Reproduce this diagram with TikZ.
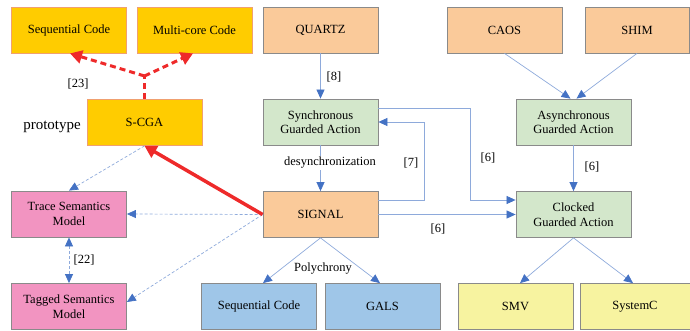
\documentclass[tikz,border=0pt]{standalone}
\usepackage{fontspec}
\setmainfont{Liberation Serif}
\usetikzlibrary{arrows.meta}
\definecolor{orfill}{HTML}{FACA9A}
\definecolor{gold}{HTML}{FFCC00}
\definecolor{goldline}{HTML}{F0A070}
\definecolor{grfill}{HTML}{D3E7CB}
\definecolor{pkfill}{HTML}{F294C1}
\definecolor{bufill}{HTML}{9FC6E8}
\definecolor{yefill}{HTML}{F7F3A0}
\definecolor{boxline}{HTML}{8A8A8A}
\definecolor{bline}{HTML}{8EAADB}
\definecolor{btip}{HTML}{4472C4}
\definecolor{myred}{HTML}{EE2A2A}
\tikzset{
  box/.style={draw=boxline, line width=0.8pt, minimum width=115pt, minimum height=46pt, inner sep=0pt, align=center, font=\fontsize{12.5}{14.5}\selectfont},
  orbox/.style={box, fill=orfill},
  gdbox/.style={box, fill=gold, draw=goldline},
  grbox/.style={box, fill=grfill},
  pkbox/.style={box, fill=pkfill},
  bubox/.style={box, fill=bufill},
  yebox/.style={box, fill=yefill},
  lbl/.style={font=\fontsize{12.5}{14.5}\selectfont, inner sep=1pt},
  bl/.style={draw=bline, line width=0.7pt, -{Triangle[length=9pt,width=8pt,color=btip]}},
  bld/.style={bl, dashed, dash pattern=on 3pt off 2pt},
  rdash/.style={draw=myred, line width=3pt, dash pattern=on 6pt off 4pt},
  rtip/.style={-{Triangle[length=12pt,width=13pt,color=myred]}},
}
\begin{document}
\begin{tikzpicture}[x=1pt,y=-1pt]
\useasboundingbox (0,0) rectangle (690,331);
% boxes
\node[gdbox] (seq1) at (69,30) {Sequential Code};
\node[gdbox] (multi) at (194.5,30) {Multi-core Code};
\node[orbox] (quartz) at (320.5,30) {QUARTZ};
\node[orbox] (caos) at (504.5,30) {CAOS};
\node[orbox, minimum width=104pt] (shim) at (637,30) {SHIM};
\node[gdbox] (scga) at (144.5,122.5) {S-CGA};
\node[grbox] (sga) at (320.5,122) {Synchronous\\Guarded Action};
\node[grbox] (aga) at (573.5,122) {Asynchronous\\Guarded Action};
\node[pkbox] (trace) at (69,214) {Trace Semantics\\Model};
\node[orbox] (signal) at (320.5,214.5) {SIGNAL};
\node[grbox] (cga) at (573.5,214.5) {Clocked\\Guarded Action};
\node[pkbox] (tagged) at (69,306.5) {Tagged Semantics\\Model};
\node[bubox] (bseq) at (259,306.5) {Sequential Code};
\node[bubox] (gals) at (382.5,306.5) {GALS};
\node[yebox] (smv) at (515.5,306.5) {SMV};
\node[yebox, minimum width=110pt] (sysc) at (635,306.5) {SystemC};
% blue connectors
\draw[bl] (quartz) -- (sga);
\draw[bl] (sga) -- (signal);
\node[lbl, fill=white] (desync) at (330,163) {desynchronization};
\draw[bl] ([yshift=14.5pt]signal.east) -- ++(46,0) |- (sga.east);
\draw[bl] ([yshift=14pt]sga.east) -- ++(92,0) |- ([yshift=14.5pt]cga.west);
\draw[bl] (signal.east) -- (cga.west);
\draw[bl] (caos.south) -- ([xshift=-3pt]aga.north);
\draw[bl] (shim.south) -- ([xshift=3pt]aga.north);
\draw[bl] (aga) -- (cga);
\draw[bl] (cga.south) -- ([xshift=4.5pt]smv.north);
\draw[bl] (cga.south) -- ([xshift=-2pt]sysc.north);
\draw[bl] (signal.south) -- ([xshift=4pt]bseq.north);
\draw[bl] (signal.south) -- ([xshift=-2.5pt]gals.north);
% dashed blue
\draw[bld] (scga.south) -- (trace.north);
\draw[bld] (signal.west) -- (trace.east);
\draw[bld] (signal.west) -- ([yshift=4.5pt]tagged.east);
\draw[bld, {Triangle[length=9pt,width=8pt,color=btip]}-{Triangle[length=9pt,width=8pt,color=btip]}] (trace.south) -- (tagged.north);
% red
\coordinate (j) at (144.5,76);
\draw[rdash] (scga.north) -- (j);
\draw[rdash, rtip] (j) -- ([xshift=1pt]seq1.south);
\draw[rdash, rtip] (j) -- ([xshift=-1.5pt]multi.south);
\draw[draw=myred, line width=3.5pt, rtip] (signal.west) -- (scga.south);
% labels
\node[lbl] (l23) at (78,84) {[23]};
\node[lbl, font=\fontsize{15}{17}\selectfont] (proto) at (52,127) {prototype};
\node[lbl] (l8) at (334,77) {[8]};
\node[lbl] (l7) at (411,163) {[7]};
\node[lbl] (l6a) at (488,158) {[6]};
\node[lbl] (l6b) at (592,167) {[6]};
\node[lbl] (l6c) at (438,229) {[6]};
\node[lbl] (poly) at (323,269) {Polychrony};
\node[lbl] (l22) at (84,260) {[22]};
\end{tikzpicture}
\end{document}
